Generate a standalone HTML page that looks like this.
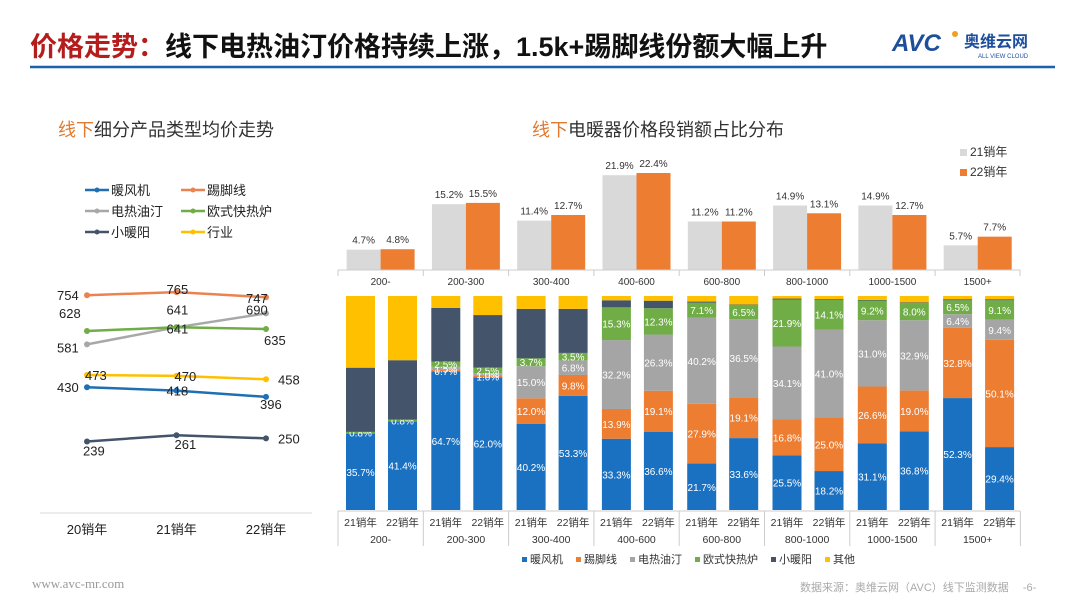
<!DOCTYPE html>
<html><head><meta charset="utf-8">
<style>
body{margin:0;width:1080px;height:608px;background:#fff;overflow:hidden;font-family:"Liberation Sans","Noto Sans CJK SC",sans-serif;}
svg{position:absolute;left:0;top:0}
</style></head>
<body>
<svg id="s" width="1080" height="608" viewBox="0 0 1080 608">
 <text x="30" y="56" font-size="27" font-weight="bold"><tspan fill="#b51c1c">价格走势：</tspan><tspan fill="#111">线下电热油汀价格持续上涨，1.5k+踢脚线份额大幅上升</tspan></text>
 <line x1="30" y1="67" x2="1055" y2="67" stroke="#1f5ea8" stroke-width="2.5"/>
 <g>
  <text x="892" y="51" font-size="24" font-weight="bold" font-style="italic" fill="#1d4f9c">AVC</text>
  <circle cx="955" cy="34" r="3" fill="#f0a020"/>
  <text x="964" y="47" font-size="16" font-weight="bold" fill="#1d4f9c">奥维云网</text>
  <text x="978" y="58" font-size="6" fill="#1d4f9c">ALL VIEW CLOUD</text>
 </g>
 <text x="58" y="136" font-size="18"><tspan fill="#e07a30">线下</tspan><tspan fill="#333">细分产品类型均价走势</tspan></text>
 <text x="532" y="136" font-size="18"><tspan fill="#e07a30">线下</tspan><tspan fill="#333">电暖器价格段销额占比分布</tspan></text>
 <g id="left"></g>
 <g id="top"></g>
 <g id="bot"></g>
 <text x="32" y="588" font-size="13" fill="#999" font-family="Liberation Serif,serif">www.avc-mr.com</text>
 <text x="800" y="591" font-size="11" fill="#aaa">数据来源：奥维云网（AVC）线下监测数据　 -6-</text>
</svg>
<script>
// ---- left line chart data ----
const lineYears=["20销年","21销年","22销年"];
const lineNames=["暖风机","踢脚线","电热油汀","欧式快热炉","小暖阳","行业"];
const lineColors=["#1f6fb2","#ea8350","#a8a8a8","#70ad47","#44546a","#ffc000"];
const s_nfj=[430,418,396];
const s_tjx=[754,765,747];
const s_drt=[581,641,690];
const s_os=[628,641,635];
const s_xny=[239,261,250];
const s_hy=[473,470,458];
// ---- top bar chart data ----
const cats=["200-","200-300","300-400","400-600","600-800","800-1000","1000-1500","1500+"];
const top21=[4.7,15.2,11.4,21.9,11.2,14.9,14.9,5.7];
const top22=[4.8,15.5,12.7,22.4,11.2,13.1,12.7,7.7];
// ---- stacked share data (bars: 21/22 per category) ----
const stackNames=["暖风机","踢脚线","电热油汀","欧式快热炉","小暖阳","其他"];
const stackColors=["#1a70c1","#ed7d31","#a5a5a5","#70ad47","#44546a","#ffc000"];
const sh_nfj=[35.7,41.4,64.7,62.0,40.2,53.3,33.3,36.6,21.7,33.6,25.5,18.2,31.1,36.8,52.3,29.4];
const sh_tjx=[0,0,0.7,1.0,12.0,9.8,13.9,19.1,27.9,19.1,16.8,25.0,26.6,19.0,32.8,50.1];
const sh_drt=[0,0,1.5,1.0,15.0,6.8,32.2,26.3,40.2,36.5,34.1,41.0,31.0,32.9,6.4,9.4];
const sh_os=[0.8,0.8,2.5,2.5,3.7,3.5,15.3,12.3,7.1,6.5,21.9,14.1,9.2,8.0,6.5,9.1];
const sh_xny=[30.0,27.8,25.0,24.6,23.1,20.6,3.3,3.5,0.5,0.3,0.5,0.3,0.3,0.3,0.5,0.5];
const sh_qt=[33.5,30.0,5.6,8.9,6.0,6.0,2.0,2.2,2.6,4.0,1.2,1.4,1.8,3.0,1.5,1.5];

const NS="http://www.w3.org/2000/svg";
function mk(tag,attrs,parent,txt){const e=document.createElementNS(NS,tag);for(const k in attrs)e.setAttribute(k,attrs[k]);if(txt!==undefined)e.textContent=txt;parent.appendChild(e);return e;}

// LEFT
const L=document.getElementById('left');
const lx=i=>87+89.5*i;
const ly=v=>331-(v-628)*0.284;
const series=[s_nfj,s_tjx,s_drt,s_os,s_xny,s_hy];
lineNames.forEach((n,i)=>{
  const col=i%2,row=Math.floor(i/2);
  const x=85+96*col,y=190+21*row;
  const g=mk('g',{},L);
  
  
  mk('line',{x1:x,y1:y,x2:x+24,y2:y,stroke:lineColors[i],'stroke-width':2.5},g);
  mk('circle',{cx:x+12,cy:y,r:2.5,fill:lineColors[i]},g);
  mk('text',{x:x+26,y:y+5,'font-size':13,fill:'#222'},g,n);
});
const lblOff=[[[-30,5],[-10,5],[-6,12]],[[-30,5],[-10,2],[-20,6]],[[-30,8],[-10,-13],[-20,1]],[[-28,-13],[-10,6],[-2,16]],[[-4,14],[-2,14],[12,5]],[[-2,5],[-2,5],[12,5]]];
series.forEach((d,si)=>{
  const pts=d.map((v,i)=>lx(i)+','+ly(v)).join(' ');
  const pl=mk('polyline',{points:pts,fill:'none',stroke:lineColors[si],'stroke-width':2.5},L);
  
  
  d.forEach((v,i)=>{
    const c=mk('circle',{cx:lx(i),cy:ly(v),r:3,fill:lineColors[si]},L);
    
    
    const o=lblOff[si][i];
    const t=mk('text',{x:lx(i)+o[0],y:ly(v)+o[1],'font-size':13,fill:'#222'},L,String(v));
    
    
  });
});
const ax=mk('line',{x1:40,y1:513,x2:312,y2:513,stroke:'#d9d9d9'},L);


lineYears.forEach((y,i)=>{const t=mk('text',{x:lx(i),y:534,'font-size':13,fill:'#222','text-anchor':'middle'},L,y);
  
  });

// TOP BARS
const T=document.getElementById('top');
const gx=i=>338+85.3*i;
const ty=v=>270-v*4.33;
cats.forEach((c,i)=>{
  [[top21,'#d9d9d9',-34],[top22,'#ed7d31',0]].forEach(([arr,col,off])=>{
    const v=arr[i],x=gx(i)+42.6+off;
    const r=mk('rect',{x:x,y:ty(v),width:34,height:270-ty(v),fill:col},T);
    
    
    const t=mk('text',{x:x+17,y:ty(v)-6,'font-size':10,fill:'#333','text-anchor':'middle'},T,v.toFixed(1)+'%');
    
    
  });
  const t=mk('text',{x:gx(i)+42.6,y:285,'font-size':10,fill:'#333','text-anchor':'middle'},T,c);
  
  
  mk('line',{x1:gx(i),y1:270,x2:gx(i),y2:276,stroke:'#ccc'},T);
});
mk('line',{x1:338,y1:270,x2:1020,y2:270,stroke:'#ccc'},T);
mk('line',{x1:1020,y1:270,x2:1020,y2:276,stroke:'#ccc'},T);
[['21销年','#d9d9d9',156],['22销年','#ed7d31',176]].forEach(([n,c,y])=>{
  const g=mk('g',{},T);
  
  
  mk('rect',{x:960,y:y-7,width:7,height:7,fill:c},g);
  mk('text',{x:970,y:y,'font-size':12,fill:'#333'},g,n);
});

// STACKED BARS
const B=document.getElementById('bot');
const by0=510,bh=214;
const stacks=[sh_nfj,sh_tjx,sh_drt,sh_os,sh_xny,sh_qt];
for(let b=0;b<16;b++){
  const gi=Math.floor(b/2),x=gx(gi)+(b%2?50:8);
  let acc=0;
  stacks.forEach((arr,si)=>{
    const v=arr[b];
    const y1=by0-acc*bh/100,y2=by0-(acc+v)*bh/100;
    acc+=v;
    if(v<=0)return;
    const r=mk('rect',{x:x,y:y2,width:29,height:y1-y2,fill:stackColors[si]},B);
    
    
    if(si<4){
      const t=mk('text',{x:x+14.5,y:(y1+y2)/2+4,'font-size':10,fill:'#fff','text-anchor':'middle'},B,v.toFixed(1)+'%');
      
      
    }
  });
  const t=mk('text',{x:x+14.5,y:526,'font-size':10.5,fill:'#333','text-anchor':'middle'},B,b%2?'22销年':'21销年');
  
  
}
mk('line',{x1:338,y1:511,x2:1020,y2:511,stroke:'#ccc'},B);
for(let i=0;i<=8;i++)mk('line',{x1:gx(i),y1:511,x2:gx(i),y2:546,stroke:'#ccc'},B);
cats.forEach((c,i)=>{const t=mk('text',{x:gx(i)+42.6,y:543,'font-size':10.5,fill:'#333','text-anchor':'middle'},B,c);
  
  });
let lxp=522;
stackNames.forEach((n,i)=>{
  const g=mk('g',{},B);
  
  
  mk('rect',{x:lxp,y:557,width:5,height:5,fill:stackColors[i]},g);
  mk('text',{x:lxp+8,y:563,'font-size':11,fill:'#333'},g,n);
  lxp+=12+n.length*11+9;
});
</script>
</body></html>
